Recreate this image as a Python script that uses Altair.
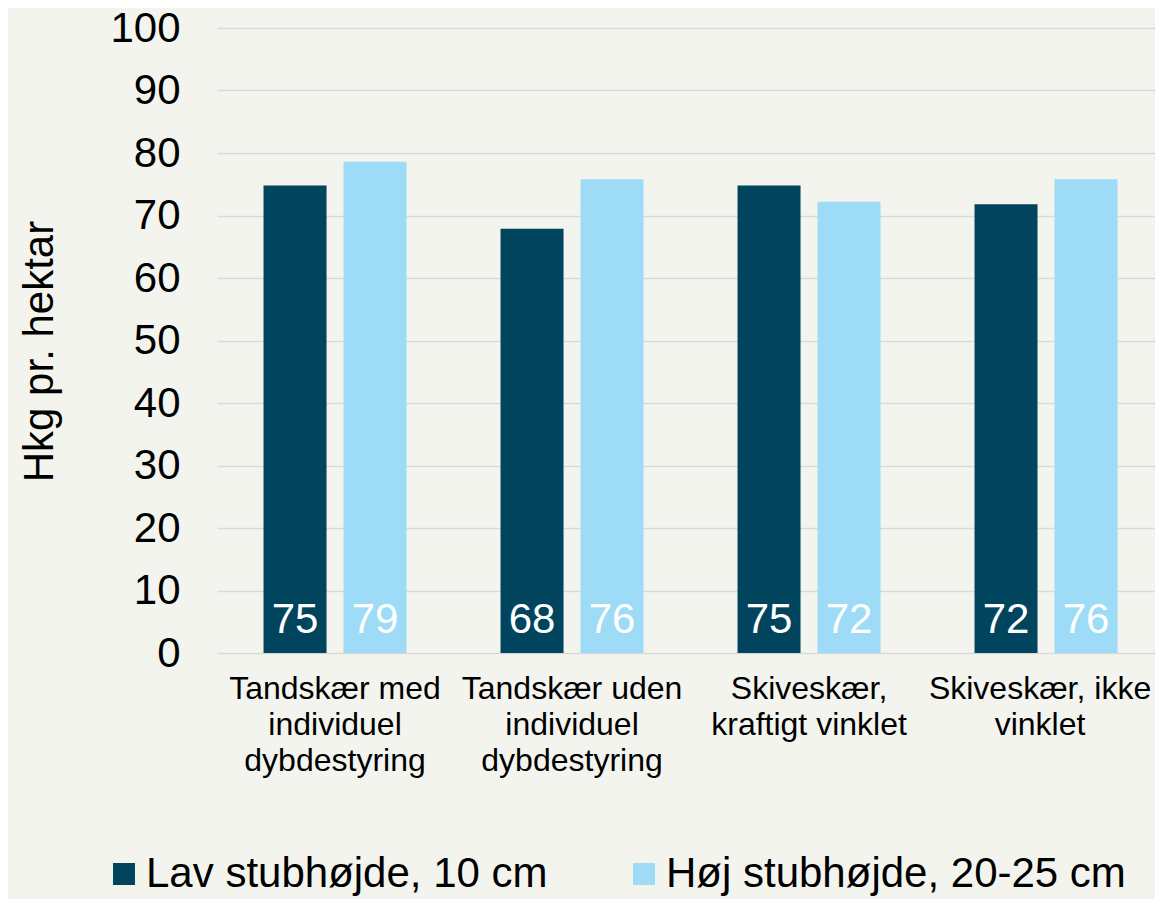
import altair as alt
import pandas as pd

categories = [
    "Tandskær med|individuel|dybdestyring",
    "Tandskær uden|individuel|dybdestyring",
    "Skiveskær,|kraftigt vinklet",
    "Skiveskær, ikke|vinklet",
]
series = ["Lav stubhøjde, 10 cm", "Høj stubhøjde, 20-25 cm"]
lav_values = [74.8, 67.9, 74.8, 71.8]
hoj_values = [78.6, 75.8, 72.2, 75.8]
colors = ["#01445E", "#9DDBF7"]

rows = []
for i, c in enumerate(categories):
    rows.append({"cat": c, "serie": series[0], "value": lav_values[i]})
    rows.append({"cat": c, "serie": series[1], "value": hoj_values[i]})
df = pd.DataFrame(rows)

FONT = "Liberation Sans"

xscale = alt.Scale(paddingInner=0.3966, paddingOuter=0.1772, align=0.554)
oscale = alt.Scale(paddingInner=0.2125, paddingOuter=0)

x = alt.X("cat:N", sort=categories, title=None, scale=xscale,
          axis=alt.Axis(labelExpr="split(datum.label, '|')", labelAngle=0,
                        labelFontSize=32, labelLineHeight=36, labelPadding=20,
                        labelOffset={"expr": "indexof(datum.value, 'ikke') >= 0 ? -6 : 0"},
                        labelColor="#000000", labelFont=FONT, domain=False, ticks=False,
                        labelLimit=400))
xo = alt.XOffset("serie:N", sort=series, scale=oscale)

bars = alt.Chart(df).mark_bar().encode(
    x=x,
    xOffset=xo,
    y=alt.Y("value:Q", title="Hkg pr. hektar",
            scale=alt.Scale(domain=[0, 100], nice=False),
            axis=alt.Axis(values=list(range(0, 101, 10)), labelFontSize=42,
                          labelFont=FONT, labelColor="#000000", labelPadding=37,
                          ticks=False, domain=False, grid=True,
                          gridColor="#D9D9D9", gridWidth=1.5,
                          titleFontSize=42, titleFont=FONT, titleFontWeight="normal",
                          titleColor="#000000", titleX=-165, titleY=323,
                          titleAlign="center", titleBaseline="alphabetic",
                          titleAngle=270)),
    color=alt.Color("serie:N", sort=series,
                    scale=alt.Scale(domain=series, range=colors),
                    legend=alt.Legend(title=None, orient="none", direction="horizontal",
                                      legendX=-114, legendY=825, columnPadding=75,
                                      symbolType="square", symbolSize=484,
                                      symbolStrokeWidth=0, labelFontSize=42,
                                      labelFont=FONT, labelColor="#000000",
                                      labelOffset=1, padding=0, labelLimit=600)),
)

labels = alt.Chart(df).mark_text(
    color="white", fontSize=42, font=FONT, baseline="alphabetic", dy=-20
).encode(
    x=alt.X("cat:N", sort=categories, scale=xscale),
    xOffset=alt.XOffset("serie:N", sort=series, scale=oscale),
    y=alt.datum(0),
    text=alt.Text("value:Q", format=".0f"),
)

chart = alt.layer(bars, labels).properties(
    width=938, height=625,
    autosize=alt.AutoSizeParams(type="none"),
    padding={"left": 209, "top": 20, "right": 0, "bottom": 246},
    background="#F4F4EF",
).configure_view(stroke=None)

chart.save("out.html", embed_options={"renderer": "svg", "actions": False})
